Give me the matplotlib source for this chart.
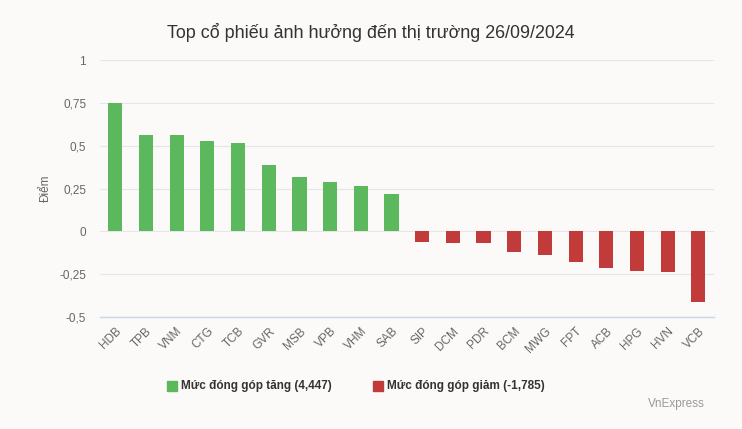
import matplotlib
matplotlib.use("Agg")
import matplotlib.pyplot as plt
from matplotlib.patches import Rectangle

plt.rcParams['font.family'] = ['Liberation Sans', 'DejaVu Sans']

categories = ["HDB", "TPB", "VNM", "CTG", "TCB", "GVR", "MSB", "VPB", "VHM", "SAB",
              "SIP", "DCM", "PDR", "BCM", "MWG", "FPT", "ACB", "HPG", "HVN", "VCB"]
values = [0.75, 0.56, 0.56, 0.53, 0.515, 0.385, 0.316, 0.287, 0.263, 0.216,
          -0.064, -0.07, -0.07, -0.123, -0.14, -0.18, -0.216, -0.234, -0.24, -0.41]
yticks = [-0.5, -0.25, 0, 0.25, 0.5, 0.75, 1]
ytick_labels = ["-0,5", "-0,25", "0", "0,25", "0,5", "0,75", "1"]
legend_up = "Mức đóng góp tăng (4,447)"
legend_down = "Mức đóng góp giảm (-1,785)"

GREEN = "#5cb85c"
RED = "#c23b3b"
BG = "#fbfaf8"

fig = plt.figure(figsize=(7.42, 4.29), dpi=100, facecolor=BG)
ax = fig.add_axes([0.1348, 0.261, 0.827, 0.599])
ax.set_facecolor(BG)

colors = [GREEN if v >= 0 else RED for v in values]
x = list(range(len(categories)))
ax.bar(x, values, width=0.46, color=colors, zorder=3)

ax.set_xlim(-0.5, len(categories) - 0.5)
ax.set_ylim(-0.5, 1)
ax.set_yticks(yticks)
ax.set_yticklabels(ytick_labels, fontsize=8.5, color="#666666")
ax.set_xticks(x)
ax.set_xticklabels(categories, rotation=45, ha="right", rotation_mode="anchor",
                   fontsize=8.5, color="#666666")
ax.tick_params(axis="both", length=0, pad=10)
ax.tick_params(axis="x", pad=6)
ax.grid(axis="y", color="#e6e6e6", linewidth=0.8, zorder=0)
for s in ["top", "right", "left"]:
    ax.spines[s].set_visible(False)
ax.spines["bottom"].set_color("#ccd6eb")
ax.spines["bottom"].set_linewidth(1)

ax.set_ylabel("Điểm", fontsize=8.5, color="#666666")
ax.yaxis.set_label_coords(-0.078, 0.5)

fig.text(0.5, 1 - 32 / 429, "Top cổ phiếu ảnh hưởng đến thị trường 26/09/2024",
         ha="center", va="center", fontsize=12.9, color="#333333")

# legend
ly = 1 - 386 / 429
fig.patches.append(Rectangle((167 / 742, ly - 5 / 429), 10 / 742, 10 / 429,
                             transform=fig.transFigure, color=GREEN))
fig.text(181 / 742, ly, legend_up, ha="left", va="center", fontsize=8.5,
         fontweight="bold", color="#333333")
fig.patches.append(Rectangle((373 / 742, ly - 5 / 429), 10 / 742, 10 / 429,
                             transform=fig.transFigure, color=RED))
fig.text(387 / 742, ly, legend_down, ha="left", va="center", fontsize=8.5,
         fontweight="bold", color="#333333")

fig.text(705 / 742, 1 - 404 / 429, "VnExpress", ha="right", va="center",
         fontsize=8.5, color="#999999")

fig.savefig("out.png", dpi=100, facecolor=BG)
